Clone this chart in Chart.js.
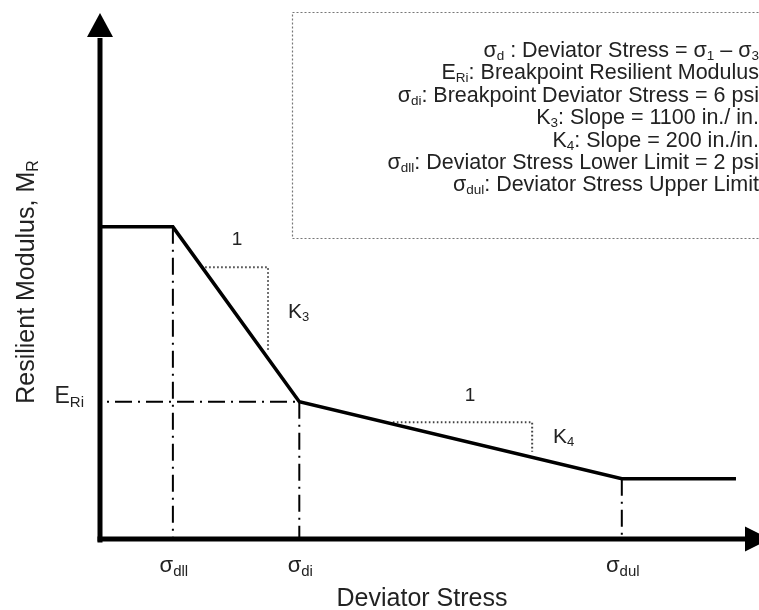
<!DOCTYPE html>
<html>
<head>
<meta charset="utf-8">
<script src="https://cdn.jsdelivr.net/npm/chart.js@4"></script>
<style>
  html, body { margin: 0; padding: 0; background: #fff; }
  #wrap { width: 759px; height: 610px; position: relative; }
</style>
</head>
<body>
<div id="wrap"><canvas id="c" width="759" height="610"></canvas></div>
<script>
// ---- data (abstract units: stress 0..100, modulus 0..100) ----
const curveStress   = [0, 11.3, 30.9, 80.9, 98.6];
const curveModulus  = [61.4, 61.4, 27.1, 12.0, 12.0];
const tickStress    = [11.3, 30.9, 80.9];
const tickModulus   = [61.4, 27.1, 12.0];
const tickLabels    = [['σ', 'dll'], ['σ', 'di'], ['σ', 'dul']];
const breakpointModulus = 27.1;
const breakpointStress  = 30.9;
const k3Stress  = [16.3, 26.05, 26.05];
const k3Modulus = [53.5, 53.5, 36.9];
const k4Stress  = [45.4, 67.0, 67.0];
const k4Modulus = [23.1, 23.1, 17.3];
const legendLines = [
  [['σ', 0], ['d', 1], [' : Deviator Stress = σ', 0], ['1', 1], [' – σ', 0], ['3', 1]],
  [['E', 0], ['Ri', 1], [': Breakpoint Resilient Modulus', 0]],
  [['σ', 0], ['di', 1], [': Breakpoint Deviator Stress = 6 psi', 0]],
  [['K', 0], ['3', 1], [': Slope = 1100 in./ in.', 0]],
  [['K', 0], ['4', 1], [': Slope = 200 in./in.', 0]],
  [['σ', 0], ['dll', 1], [': Deviator Stress Lower Limit = 2 psi', 0]],
  [['σ', 0], ['dul', 1], [': Deviator Stress Upper Limit', 0]]
];
const slopeLabels = [
  { x: 21.24, y: 57.84, runs: [['1', 0]], align: 'center', size: 19 },
  { x: 29.15, y: 43.53, runs: [['K', 0], ['3', 1]], align: 'left', size: 21 },
  { x: 57.36, y: 27.25, runs: [['1', 0]], align: 'center', size: 19 },
  { x: 70.23, y: 19.02, runs: [['K', 0], ['4', 1]], align: 'left', size: 21 }
];
const xTitle = 'Deviator Stress';
const yTitleRuns = [['Resilient Modulus, M', 0], ['R', 1]];
const eriRuns = [['E', 0], ['Ri', 1]];

const FONT = '"Liberation Sans", Arial, sans-serif';
const pts = (xs, ys) => xs.map((x, i) => ({ x, y: ys[i] }));

function drawRuns(ctx, runs, x, y, size, subSize, subDrop, align, color) {
  ctx.save();
  ctx.fillStyle = color || '#222';
  ctx.textBaseline = 'alphabetic';
  ctx.textAlign = 'left';
  let total = 0;
  const widths = runs.map(([t, s]) => {
    ctx.font = (s ? subSize : size) + 'px ' + FONT;
    const w = ctx.measureText(t).width;
    total += w;
    return w;
  });
  let cx = align === 'right' ? x - total : align === 'center' ? x - total / 2 : x;
  runs.forEach(([t, s], i) => {
    ctx.font = (s ? subSize : size) + 'px ' + FONT;
    ctx.fillText(t, cx, s ? y + subDrop : y);
    cx += widths[i];
  });
  ctx.restore();
}

const decor = {
  id: 'decor',
  beforeDatasetsDraw(chart) {
    const ctx = chart.ctx;
    // legend box
    ctx.save();
    ctx.strokeStyle = '#777';
    ctx.lineWidth = 1.2;
    ctx.setLineDash([2, 2]);
    ctx.strokeRect(292.5, 12.5, 480, 226);
    ctx.restore();
  },
  afterDatasetsDraw(chart) {
    const ctx = chart.ctx;
    const xs = chart.scales.x, ys = chart.scales.y;
    const x0 = xs.getPixelForValue(0), y0 = ys.getPixelForValue(0);
    const ca = chart.chartArea;
    ctx.save();
    ctx.fillStyle = '#000';
    ctx.strokeStyle = '#000';
    ctx.lineWidth = 5;
    ctx.lineCap = 'butt';
    // y axis
    ctx.beginPath();
    ctx.moveTo(x0, y0 + 2.5);
    ctx.lineTo(x0, ca.top + 8);
    ctx.stroke();
    ctx.beginPath();
    ctx.moveTo(x0, ca.top - 17);
    ctx.lineTo(x0 - 13, ca.top + 7);
    ctx.lineTo(x0 + 13, ca.top + 7);
    ctx.closePath();
    ctx.fill();
    // x axis
    ctx.beginPath();
    ctx.moveTo(x0 - 2.5, y0 - 1);
    ctx.lineTo(ca.right + 2, y0 - 1);
    ctx.stroke();
    ctx.beginPath();
    ctx.moveTo(ca.right + 25, y0 - 1);
    ctx.lineTo(ca.right, y0 - 13.5);
    ctx.lineTo(ca.right, y0 + 11.5);
    ctx.closePath();
    ctx.fill();
    ctx.restore();

    // tick labels
    tickStress.forEach((s, i) => {
      const px = xs.getPixelForValue(s);
      drawRuns(ctx, [[tickLabels[i][0], 0], [tickLabels[i][1], 1]], px + 1, 572, 22, 15, 4, 'center');
    });
    // E_Ri label
    drawRuns(ctx, eriRuns, 84, ys.getPixelForValue(breakpointModulus) + 1, 23, 15, 4, 'right');
    // slope labels
    slopeLabels.forEach(l => {
      drawRuns(ctx, l.runs, xs.getPixelForValue(l.x), ys.getPixelForValue(l.y), l.size, 13, 3, l.align);
    });
    // axis titles
    drawRuns(ctx, [[xTitle, 0]], 422, 606, 25, 16, 4, 'center');
    ctx.save();
    ctx.translate(34, 282);
    ctx.rotate(-Math.PI / 2);
    drawRuns(ctx, yTitleRuns, 0, 0, 25, 16, 4, 'center');
    ctx.restore();
    // legend text
    legendLines.forEach((runs, i) => {
      drawRuns(ctx, runs, 759, 57 + i * 22.4, 21.5, 13.5, 3, 'right');
    });
  }
};

const dashDot = [17, 6, 2, 6];
const dotted = [1.6, 2.4];
const datasets = [
  { data: pts(curveStress, curveModulus), borderColor: '#000', borderWidth: 3.5, borderJoinStyle: 'miter', showLine: true, pointRadius: 0 },
  { data: pts([0, breakpointStress], [breakpointModulus, breakpointModulus]), borderColor: '#000', borderWidth: 2, borderDash: dashDot, borderDashOffset: 16, showLine: true, pointRadius: 0 },
  { data: pts(k3Stress, k3Modulus), borderColor: '#444', borderWidth: 2, borderDash: dotted, showLine: true, pointRadius: 0 },
  { data: pts(k4Stress, k4Modulus), borderColor: '#444', borderWidth: 2, borderDash: dotted, showLine: true, pointRadius: 0 }
];
tickStress.forEach((s, i) => {
  datasets.push({ data: pts([s, s], [tickModulus[i], 0]), borderColor: '#000', borderWidth: 2, borderDash: dashDot, showLine: true, pointRadius: 0 });
});

new Chart(document.getElementById('c'), {
  type: 'scatter',
  data: { datasets },
  options: {
    responsive: false,
    devicePixelRatio: 1,
    animation: false,
    events: [],
    layout: { padding: { left: 100, right: 14, top: 30, bottom: 70 } },
    plugins: { legend: { display: false }, tooltip: { enabled: false } },
    scales: {
      x: { type: 'linear', min: 0, max: 100, display: false },
      y: { type: 'linear', min: 0, max: 100, display: false }
    }
  },
  plugins: [decor]
});
</script>
</body>
</html>
